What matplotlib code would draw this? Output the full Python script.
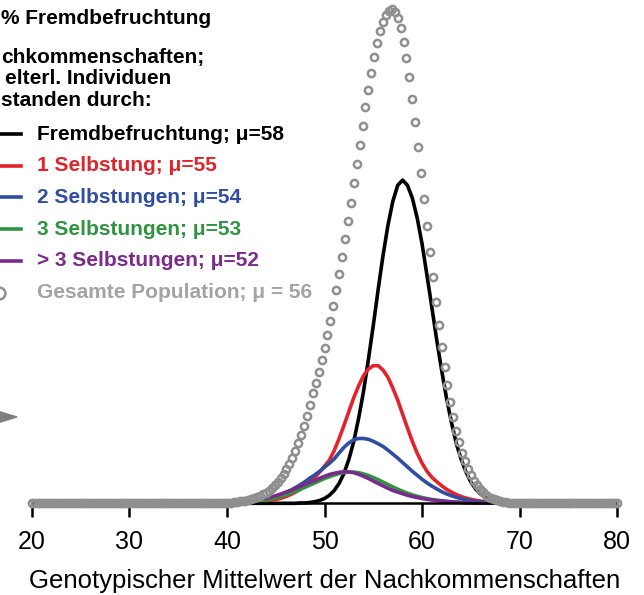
import numpy as np
import matplotlib
matplotlib.use("Agg")
import matplotlib.pyplot as plt
from matplotlib.lines import Line2D
from matplotlib.patches import Polygon

x_line = np.arange(40, 68.01, 0.5)

fremd = [0, 0, 0, 0, 0, 0, 0, 0,
         0, 0, 0, 0, 0, 0, 0, 0.01,
         0.01, 0.02, 0.04, 0.07, 0.12, 0.2, 0.32, 0.5,
         0.75, 1.1, 1.55, 2.13, 2.8, 3.6, 4.45, 5.35,
         6.2, 6.95, 7.55, 7.95, 8.08, 7.95, 7.63, 7.13,
         6.48, 5.7, 4.9, 4.08, 3.33, 2.63, 2.03, 1.5,
         1.1, 0.78, 0.53, 0.35, 0.23, 0.15, 0.09, 0.05,
         0.03]

selbst1 = [0.001, 0.002, 0.004, 0.006, 0.01, 0.015, 0.022, 0.032,
           0.048, 0.068, 0.093, 0.125, 0.165, 0.215, 0.275, 0.35,
           0.44, 0.54, 0.65, 0.78, 0.93, 1.08, 1.32, 1.62,
           1.95, 2.3, 2.64, 2.94, 3.19, 3.36, 3.44, 3.44,
           3.33, 3.15, 2.88, 2.58, 2.23, 1.88, 1.55, 1.25,
           1.0, 0.8, 0.65, 0.54, 0.44, 0.35, 0.28, 0.22,
           0.17, 0.13, 0.1, 0.075, 0.055, 0.04, 0.025, 0.015,
           0.01]

selbst2 = [0.0, 0.0, 0.005, 0.01, 0.015, 0.025, 0.04, 0.06,
           0.085, 0.12, 0.16, 0.2, 0.26, 0.32, 0.39, 0.46,
           0.54, 0.63, 0.71, 0.8, 0.9, 1.0, 1.11, 1.26,
           1.4, 1.51, 1.59, 1.62, 1.62, 1.6, 1.55, 1.49,
           1.42, 1.33, 1.23, 1.13, 1.02, 0.91, 0.8, 0.7,
           0.6, 0.51, 0.43, 0.36, 0.29, 0.235, 0.19, 0.15,
           0.115, 0.09, 0.068, 0.05, 0.038, 0.028, 0.02, 0.013,
           0.008]

selbst3 = [0.0025, 0.005, 0.0075, 0.013, 0.02, 0.03, 0.043, 0.06,
           0.08, 0.105, 0.135, 0.17, 0.208, 0.25, 0.295, 0.345,
           0.4, 0.455, 0.51, 0.565, 0.618, 0.665, 0.708, 0.743,
           0.768, 0.78, 0.78, 0.765, 0.735, 0.695, 0.645, 0.59,
           0.53, 0.47, 0.41, 0.353, 0.3, 0.253, 0.21, 0.175,
           0.145, 0.118, 0.095, 0.078, 0.063, 0.05, 0.04, 0.031,
           0.025, 0.019, 0.0145, 0.011, 0.008, 0.006, 0.0045, 0.003,
           0.002]

selbst4 = [0.008, 0.012, 0.02, 0.03, 0.04, 0.055, 0.075, 0.1,
           0.125, 0.16, 0.19, 0.23, 0.275, 0.32, 0.37, 0.42,
           0.475, 0.525, 0.575, 0.625, 0.675, 0.72, 0.75, 0.775,
           0.79, 0.785, 0.765, 0.725, 0.675, 0.62, 0.555, 0.495,
           0.435, 0.375, 0.32, 0.28, 0.24, 0.2, 0.17, 0.145,
           0.12, 0.1, 0.085, 0.07, 0.058, 0.045, 0.035, 0.028,
           0.021, 0.016, 0.012, 0.01, 0.007, 0.005, 0.0035, 0.0025,
           0.0015]

# Gesamte Population, Punkte alle 0.3 von 20 bis 80
pop_x = np.round(np.arange(201) * 0.3 + 20, 1)
pop_y = ([0.0] * 62 +
         [0.01, 0.01, 0.01, 0.01, 0.02, 0.02, 0.02, 0.03, 0.04, 0.05,
          0.06, 0.07, 0.09, 0.11, 0.13, 0.16, 0.19, 0.23, 0.27, 0.32,
          0.38, 0.45, 0.54, 0.63, 0.73, 0.85, 0.99, 1.14, 1.31, 1.5,
          1.71, 1.94, 2.19, 2.46, 2.76, 3.02, 3.29, 3.58, 3.89, 4.22,
          4.57, 4.94, 5.33, 5.74, 6.16, 6.6, 7.06, 7.52, 8.0, 8.48,
          8.96, 9.43, 9.9, 10.34, 10.76, 11.15, 11.5, 11.8, 12.04, 12.22,
          12.32, 12.35, 12.29, 12.13, 11.88, 11.54, 11.13, 10.65, 10.11, 9.53,
          8.9, 8.26, 7.6, 6.94, 6.29, 5.65, 5.04, 4.46, 3.92, 3.42,
          2.96, 2.54, 2.16, 1.82, 1.53, 1.27, 1.05, 0.86, 0.7, 0.56,
          0.45, 0.36, 0.28, 0.22, 0.17, 0.13, 0.1, 0.08, 0.06, 0.04,
          0.03, 0.02, 0.02, 0.01, 0.01, 0.01] +
         [0.0] * 33)

xticks = [20, 30, 40, 50, 60, 70, 80]

labels = ["Fremdbefruchtung; \u03bc=58", "1 Selbstung; \u03bc=55",
          "2 Selbstungen; \u03bc=54", "3 Selbstungen; \u03bc=53",
          "> 3 Selbstungen; \u03bc=52", "Gesamte Population; \u03bc = 56"]
colors = ["#000000", "#e3232c", "#2f4ea3", "#2f9440", "#7b2a8c"]
text_colors = ["#000000", "#e3232c", "#2f4ea3", "#2f9440", "#7b2a8c", "#a3a3a3"]
gray = "#8f8f8f"

plt.rcParams["font.family"] = ["Liberation Sans", "DejaVu Sans"]

W, H = 644, 595
fig = plt.figure(figsize=(W / 100, H / 100), dpi=100)
base = 503.3
ax = fig.add_axes([31.7 / W, (H - base) / H, 585.6 / W, base / H])


def fx(px):
    return px / W


def fy(py):
    return 1 - py / H


for vals, c in zip([fremd, selbst1, selbst2, selbst3, selbst4], colors):
    ax.plot(x_line, vals, color=c, lw=2.6, clip_on=False, zorder=2)

ax.plot(pop_x, pop_y, ls="none", marker="o", ms=5.2, mew=1.8, mec=gray,
        mfc="none", clip_on=False, zorder=4)

ax.set_xlim(20, 80)
ax.set_ylim(0, base / 40)
ax.set_xticks(xticks)
ax.set_yticks([])
for s in ["left", "right", "top"]:
    ax.spines[s].set_visible(False)
ax.spines["bottom"].set_linewidth(1.8)
ax.tick_params(axis="x", length=10, width=1.8, labelsize=18, pad=9)
ax.set_xlabel("Genotypischer Mittelwert der Nachkommenschaften", fontsize=18.5, labelpad=11)
ax.patch.set_alpha(0)

# Texte oben links (im Original am Rand abgeschnitten)
fig.text(fx(1), fy(18), "% Fremdbefruchtung", ha="left", va="center",
         fontsize=15, fontweight="bold")
fig.text(fx(1), fy(58), "chkommenschaften;", ha="left", va="center",
         fontsize=15, fontweight="bold")
fig.text(fx(5), fy(78), "elterl. Individuen", ha="left", va="center",
         fontsize=15, fontweight="bold")
fig.text(fx(1), fy(100), "standen durch:", ha="left", va="center",
         fontsize=15, fontweight="bold")

# Legende von Hand
for i, lab in enumerate(labels):
    y = 134 + 31.7 * i
    if i < 5:
        fig.add_artist(Line2D([fx(-20), fx(21)], [fy(y), fy(y)], color=colors[i], lw=2.6))
    else:
        fig.add_artist(Line2D([fx(-1.5)], [fy(y)], ls="none", marker="o", ms=8.5,
                              mew=1.8, mec=gray, mfc="none"))
    fig.text(fx(37), fy(y), lab, color=text_colors[i], ha="left", va="center",
             fontsize=15, fontweight="bold")

# grauer Pfeil links
fig.add_artist(Polygon([[fx(-6), fy(410)], [fx(17), fy(417)], [fx(-6), fy(424)]],
                       closed=True, color="#7f7f7f", transform=fig.transFigure))

fig.savefig("out.png", dpi=100)
